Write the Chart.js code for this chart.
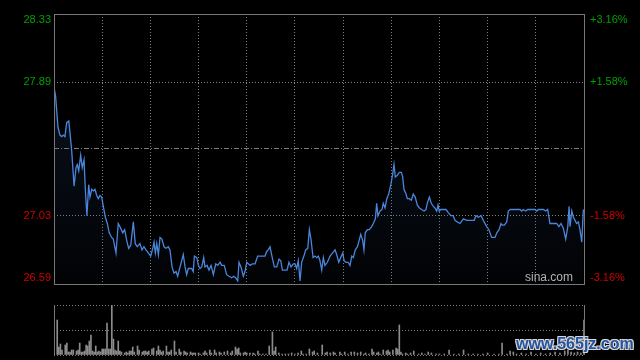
<!DOCTYPE html>
<html>
<head>
<meta charset="utf-8">
<script src="https://cdn.jsdelivr.net/npm/chart.js@4/dist/chart.umd.min.js"></script>
<style>
  html, body { margin: 0; padding: 0; background: #000; }
  #wrap { position: relative; width: 640px; height: 360px; overflow: hidden; }
  canvas { position: absolute; left: 0; top: 0; }
  #mark {
    position: absolute; left: 516px; top: 335px; line-height: 16px;
    font: bold 16px "Liberation Sans", Arial, sans-serif; color: #24549f;
    text-shadow: -1px -1px 0 #d8d8d8, 1px -1px 0 #d8d8d8, -1px 1px 0 #d8d8d8, 1px 1px 0 #d8d8d8;
  }
</style>
</head>
<body>
<div id="wrap">
  <canvas id="priceChart" width="640" height="360"></canvas>
  <canvas id="volChart" width="640" height="360"></canvas>
  <div id="mark">www.565jz.com</div>
</div>
<script>
// minutes since the open (HK session, 330 trading minutes)
var minutes = [
  0, 1, 2.5, 3.7, 4.8, 5.8, 6.8, 7.9, 9.2, 10, 11, 12.5, 13.7, 14.5, 15.4, 16.6, 17.6, 18.7, 19.5, 20.5,
  21.6, 22.4, 23.5, 24.5, 25.5, 26.6, 27.6, 28.6, 29.7, 30.7, 32, 33.2, 34.4, 35.9, 36.9, 38.6, 40, 41.5, 42.8, 44,
  45.3, 46.5, 47.8, 49.4, 50.6, 51.9, 53.5, 54.8, 56, 57.3, 58.7, 60.2, 61.5, 62.3, 63.1, 64, 65, 66, 67.2, 68.5,
  69.7, 71.2, 72.2, 73.5, 74.7, 76, 77, 78.5, 80.5, 81.6, 82.6, 83.6,
  85.7, 86.7, 87.4, 88.9, 89.9, 90.9, 92, 93.2, 94, 95.3, 96.5, 97.8, 99.2, 100.7, 101.9, 103.4, 104.4, 106,
  107.5, 109, 110.6, 111.9, 113.1, 114.4, 115.2, 116.4, 117.9, 118.9, 120, 121, 122.2, 123.5, 125.2, 126.8, 128.9, 131.4,
  132.4, 133.4, 134.5, 135.1, 135.9, 137.2, 138.7, 140.1, 141.2, 142.2, 143.8, 145.1, 146.3, 147.6, 149, 150.1, 151.1, 152.1,
  153.2, 154.2, 155.9, 156.7, 158, 159, 160, 161.3, 162.5, 163.6, 164.6, 165.6, 166.7,
  167.7, 168.7, 170.2, 171.9, 173.5, 175, 176, 177.3, 178.5, 179.8, 180.6, 181.8, 183.1, 184.3, 185.4, 186.4, 187.6, 188.9,
  189.7, 191, 192.2, 193, 193.8, 195.1, 196.3, 197.8, 198.8, 200.1, 200.9, 201.7, 203, 204.2, 205, 206.1, 207.2, 208.4,
  209.7, 210.9, 211.7, 212.5, 213.8, 215, 216.3, 217.1, 217.9, 219.2, 220, 221.2, 222.5, 223.7, 224.9, 226.2, 227.5, 228.9,
  230.4, 231.6, 232.4, 233.7, 234.9, 236.2, 237.2, 238.3, 239.1, 239.9, 240.8, 242.4, 244.1, 245.5, 247, 248.6, 249.7, 251.1, 252.8,
  254.9, 257, 259, 261.7, 262.6, 264.2, 265.9, 267.3, 269.4, 270.8, 272.5, 274.6, 275.7, 277.1, 278.3, 279.1, 280.4, 281.9,
  282.9, 284.1, 287, 290.2, 291.2, 292.2, 293.7, 295, 299.5, 300.6, 301.6, 304.7, 306.2, 307.4, 308.8, 310.9, 313, 314.4,
  315.7, 317.1, 318.6, 319.9, 320.7, 321.3, 322.4, 323.4, 324.4, 325.4, 326.5, 327.5, 328.6, 329.6
];
var prices = [
  27.86, 27.80, 27.60, 27.55, 27.54, 27.55, 27.54, 27.63, 27.64, 27.56, 27.45, 27.22, 27.34, 27.36, 27.32, 27.42, 27.34, 27.39, 27.20, 27.03,
  27.23, 27.15, 27.20, 27.19, 27.20, 27.16, 27.14, 27.16, 27.15, 27.09, 27.02, 26.98, 26.92, 26.89, 26.88, 26.79, 26.98, 26.95, 26.92, 26.94,
  26.87, 26.82, 26.84, 26.99, 26.85, 26.83, 26.85, 26.81, 26.83, 26.81, 26.79, 26.77, 26.82, 26.86, 26.79, 26.85, 26.78, 26.89, 26.88, 26.83,
  26.82, 26.83, 26.81, 26.70, 26.66, 26.67, 26.64, 26.70, 26.78, 26.70, 26.65, 26.69,
  26.69, 26.67, 26.77, 26.76, 26.71, 26.69, 26.70, 26.76, 26.70, 26.71, 26.68, 26.71, 26.65, 26.72, 26.71, 26.73, 26.71, 26.71,
  26.65, 26.64, 26.63, 26.64, 26.63, 26.61, 26.73, 26.70, 26.64, 26.67, 26.73, 26.72, 26.71, 26.72, 26.72, 26.77, 26.77, 26.77,
  26.80, 26.81, 26.83, 26.83, 26.76, 26.70, 26.70, 26.75, 26.74, 26.68, 26.68, 26.68, 26.73, 26.70, 26.72, 26.72, 26.69, 26.74,
  26.61, 26.73, 26.78, 26.81, 26.82, 26.94, 26.88, 26.76, 26.77, 26.76, 26.77, 26.74, 26.68,
  26.76, 26.71, 26.73, 26.77, 26.79, 26.81, 26.78, 26.73, 26.76, 26.79, 26.74, 26.73, 26.73, 26.71, 26.77, 26.76, 26.81, 26.83,
  26.86, 26.91, 26.87, 26.81, 26.92, 26.94, 26.94, 26.96, 26.98, 27.01, 27.11, 27.03, 27.06, 27.07, 27.11, 27.08, 27.14, 27.17,
  27.23, 27.30, 27.36, 27.28, 27.29, 27.31, 27.31, 27.28, 27.20, 27.17, 27.14, 27.14, 27.13, 27.17, 27.15, 27.10, 27.08, 27.07,
  27.06, 27.07, 27.11, 27.15, 27.11, 27.09, 27.08, 27.06, 27.10, 27.06, 27.07, 27.07, 27.07, 27.05, 27.03, 27.03, 27.00, 26.99, 26.98,
  27.01, 27.00, 27.00, 27.00, 27.03, 27.02, 27.03, 27.00, 26.96, 26.94, 26.89, 26.89, 26.92, 26.94, 26.98, 26.97, 26.97, 26.99,
  27.06, 27.07, 27.07, 27.07, 27.06, 27.07, 27.06, 27.07, 27.07, 27.06, 27.07, 27.07, 27.06, 27.07, 26.98, 26.98, 26.98, 26.96,
  26.98, 26.95, 26.88, 26.96, 27.09, 26.96, 27.06, 27.02, 27.00, 26.98, 26.99, 26.94, 26.86, 27.07
];

// volume bars (minute, volume in 10k shares)
var volMinutes = [
  0, 2, 3, 4, 5, 7, 8, 9, 10, 11, 12, 14, 15, 16, 17, 18, 19, 20, 21, 22, 23, 24, 25, 26, 27, 28, 29, 30, 31, 32,
  33, 34, 35, 36, 37, 38, 39, 40, 41, 42, 44, 45, 46, 47, 48, 49, 50, 52, 53, 55, 56, 57, 58, 59, 61, 62, 64, 65, 66, 67,
  68, 70, 71, 72, 73, 75, 76, 78, 79, 81, 82, 83, 85, 86, 87, 88, 90, 91, 93, 94, 95, 97, 98, 100, 101, 103, 104, 106, 108, 110,
  111, 113, 114, 115, 116, 118, 119, 120, 122, 124, 125, 127, 128, 130, 132, 134, 136, 137, 138, 140, 142, 144, 146, 148, 150, 152,
  154, 155, 157, 159, 161, 162, 164, 167, 169, 170, 172, 174, 175, 178, 179, 181, 183, 185, 187, 189, 191, 193, 194, 196,
  198, 199, 201, 202, 203, 205, 207, 208, 209, 211, 213, 214, 215, 216, 217, 219, 220, 222, 224, 227, 229, 231, 233, 235,
  238, 240, 243, 246, 249, 252, 255, 258, 261, 264, 267, 270, 274, 277, 279, 282, 284, 286, 288, 291, 294, 297, 300, 303,
  306, 309, 312, 315, 318, 320, 322, 324, 326, 328, 330
];
var volumes = [
  30, 35, 8, 11, 5, 10, 12, 3, 3, 5, 5, 4, 5, 12, 3, 3, 4, 10, 9, 14, 20, 4, 3, 9, 3, 4, 3, 6, 6, 6,
  32, 6, 6, 50, 16, 5, 4, 14, 4, 3, 2, 3, 2, 4, 4, 8, 3, 9, 5, 3, 4, 4, 3, 4, 6, 7, 4, 9, 5, 3,
  4, 9, 3, 3, 5, 14, 3, 6, 3, 4, 3, 2, 3, 2, 2, 2, 2, 1, 2, 4, 2, 5, 2, 5, 2, 3, 2, 3, 4, 2,
  4, 8, 6, 7, 2, 2, 3, 2, 2, 2, 1, 4, 1, 1, 1, 9, 23, 4, 8, 2, 1, 1, 1, 2, 1, 2,
  4, 1, 1, 6, 3, 4, 2, 10, 2, 3, 2, 3, 2, 3, 1, 3, 1, 3, 3, 2, 3, 1, 2, 1,
  6, 3, 2, 3, 1, 5, 4, 5, 3, 5, 7, 6, 30, 3, 1, 2, 1, 2, 4, 1, 2, 1, 3, 2,
  1, 1, 1, 5, 1, 1, 5, 1, 1, 1, 1, 2, 1, 1, 12, 1, 4, 3, 1, 2, 1, 3, 1, 2,
  1, 2, 3, 2, 4, 5, 3, 2, 3, 2, 35
];

var yTicks = [26.59, 27.03, 27.46, 27.89, 28.33];
var leftLabels = ['26.59', '27.03', '', '27.89', '28.33'];
var rightLabels = ['-3.16%', '-1.58%', '', '+1.58%', '+3.16%'];
var prevClose = 27.46;

var green = '#00a000', red = '#d00000', gridGray = '#808080', frameGray = '#777777';

var frameAndLabels = {
  id: 'frameAndLabels',
  afterDraw: function (chart) {
    var ctx = chart.ctx, a = chart.chartArea, y = chart.scales.y;
    ctx.save();
    ctx.strokeStyle = frameGray;
    ctx.lineWidth = 1;
    ctx.strokeRect(a.left + 0.5, a.top + 0.5, a.right - a.left, a.bottom - a.top);
    ctx.font = '11px "Liberation Sans", Arial, sans-serif';
    ctx.textBaseline = 'middle';
    yTicks.forEach(function (v, i) {
      var py = Math.min(Math.max(y.getPixelForValue(v), a.top + 6), a.bottom - 6);
      ctx.fillStyle = v > prevClose ? green : red;
      ctx.textAlign = 'right';
      ctx.fillText(leftLabels[i], a.left - 3, py);
      ctx.textAlign = 'left';
      ctx.fillText(rightLabels[i], a.right + 6, py);
    });
    ctx.fillStyle = '#b4b4b4';
    ctx.font = '12px "Liberation Sans", Arial, sans-serif';
    ctx.textAlign = 'right';
    ctx.fillText('sina.com', a.right - 11, a.bottom - 6);
    ctx.restore();
  }
};

var priceCtx = document.getElementById('priceChart').getContext('2d');
new Chart(priceCtx, {
  type: 'line',
  data: {
    datasets: [{
      data: minutes.map(function (m, i) { return { x: m, y: prices[i] }; }),
      borderColor: '#4a86dc',
      borderWidth: 1.3,
      pointRadius: 0,
      tension: 0,
      fill: 'start',
      backgroundColor: function (c) {
        var a = c.chart.chartArea;
        if (!a) return 'rgba(0,0,0,0)';
        var g = c.chart.ctx.createLinearGradient(0, a.top, 0, a.bottom);
        g.addColorStop(0, 'rgba(40,70,120,0.30)');
        g.addColorStop(1, 'rgba(40,70,120,0.04)');
        return g;
      }
    }]
  },
  options: {
    responsive: false,
    animation: false,
    layout: { padding: { left: 54, right: 56, top: 14, bottom: 76 } },
    plugins: { legend: { display: false }, tooltip: { enabled: false } },
    scales: {
      x: {
        type: 'linear', min: 0, max: 330,
        ticks: { display: false, stepSize: 30 },
        grid: {
          drawTicks: false,
          color: function (c) { return (c.tick && (c.tick.value === 0 || c.tick.value === 330)) ? 'rgba(0,0,0,0)' : gridGray; }
        },
        border: { display: false, dash: [1, 2] },
        afterFit: function (s) { s.height = 0; }
      },
      y: {
        min: 26.59, max: 28.33,
        afterBuildTicks: function (s) { s.ticks = yTicks.map(function (v) { return { value: v }; }); },
        ticks: { display: false },
        grid: {
          drawTicks: false,
          color: function (c) {
            if (!c.tick) return gridGray;
            return (c.index === 0 || c.index === yTicks.length - 1) ? 'rgba(0,0,0,0)' : gridGray;
          }
        },
        border: {
          display: false,
          dash: function (c) { return (c.tick && c.tick.value === prevClose) ? [5, 2, 1, 2] : [1, 2]; }
        },
        afterFit: function (s) { s.width = 0; }
      }
    }
  },
  plugins: [frameAndLabels]
});

var volFrame = {
  id: 'volFrame',
  afterDraw: function (chart) {
    var ctx = chart.ctx, a = chart.chartArea;
    ctx.save();
    ctx.strokeStyle = frameGray;
    ctx.lineWidth = 1;
    ctx.beginPath();
    ctx.moveTo(a.left + 0.5, a.top);
    ctx.lineTo(a.left + 0.5, a.bottom);
    ctx.moveTo(a.right + 0.5, a.top);
    ctx.lineTo(a.right + 0.5, a.bottom);
    ctx.stroke();
    ctx.restore();
  }
};

var volCtx = document.getElementById('volChart').getContext('2d');
new Chart(volCtx, {
  type: 'bar',
  data: {
    datasets: [{
      data: volMinutes.map(function (m, i) { return { x: m, y: volumes[i] }; }),
      backgroundColor: '#8c8c8c',
      barThickness: 1
    }]
  },
  options: {
    responsive: false,
    animation: false,
    layout: { padding: { left: 54, right: 56, top: 305, bottom: 5 } },
    plugins: { legend: { display: false }, tooltip: { enabled: false } },
    scales: {
      x: {
        type: 'linear', min: 0, max: 330,
        offset: false,
        ticks: { display: false },
        grid: { display: false },
        border: { display: false },
        afterFit: function (s) { s.height = 0; }
      },
      y: {
        min: 0, max: 50,
        afterBuildTicks: function (s) { s.ticks = [0, 25, 50].map(function (v) { return { value: v }; }); },
        ticks: { display: false },
        grid: { drawTicks: false, color: gridGray },
        border: { display: false, dash: [1, 2] },
        afterFit: function (s) { s.width = 0; }
      }
    }
  },
  plugins: [volFrame]
});
</script>
</body>
</html>
